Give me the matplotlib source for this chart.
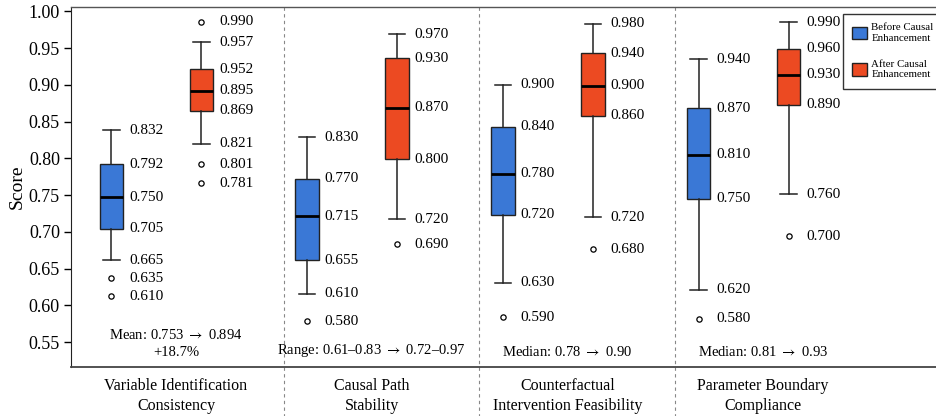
import numpy as np
import matplotlib
matplotlib.use("Agg")
import matplotlib.pyplot as plt
from matplotlib.patches import Patch

plt.rcParams['font.family'] = ['Liberation Serif', 'DejaVu Serif']
plt.rcParams['mathtext.fontset'] = 'stix'

categories = ["Variable Identification\nConsistency", "Causal Path\nStability",
              "Counterfactual\nIntervention Feasibility", "Parameter Boundary\nCompliance"]

# Before causal enhancement (blue)
before_whishi = [0.838, 0.829, 0.900, 0.935]
before_q3 = [0.792, 0.772, 0.843, 0.868]
before_med = [0.747, 0.721, 0.779, 0.805]
before_q1 = [0.704, 0.661, 0.723, 0.745]
before_whislo = [0.661, 0.616, 0.631, 0.621]
before_fliers = [[0.637, 0.612], [0.578], [0.584], [0.582]]
before_labels = [["0.832", "0.792", "0.750", "0.705", "0.665", "0.635", "0.610"],
                 ["0.830", "0.770", "0.715", "0.655", "0.610", "0.580"],
                 ["0.900", "0.840", "0.780", "0.720", "0.630", "0.590"],
                 ["0.940", "0.870", "0.810", "0.750", "0.620", "0.580"]]

# After causal enhancement (red)
after_whishi = [0.958, 0.969, 0.983, 0.985]
after_q3 = [0.921, 0.936, 0.943, 0.949]
after_med = [0.892, 0.869, 0.899, 0.914]
after_q1 = [0.865, 0.799, 0.858, 0.873]
after_whislo = [0.820, 0.717, 0.720, 0.751]
after_fliers = [[0.986, 0.792, 0.766], [0.683], [0.676], [0.694]]
after_labels = [["0.957", "0.952", "0.895", "0.869", "0.821", "0.990", "0.801", "0.781"],
                ["0.970", "0.930", "0.870", "0.800", "0.720", "0.690"],
                ["0.980", "0.940", "0.900", "0.860", "0.720", "0.680"],
                ["0.990", "0.960", "0.930", "0.890", "0.760", "0.700"]]

ARROW = r" $\rightarrow$ "
summaries = ["Mean: 0.753" + ARROW + "0.894\n+18.7%",
             "Range: 0.61\u20130.83" + ARROW + "0.72\u20130.97",
             "Median: 0.78" + ARROW + "0.90",
             "Median: 0.81" + ARROW + "0.93"]

yticks = [0.55, 0.60, 0.65, 0.70, 0.75, 0.80, 0.85, 0.90, 0.95, 1.00]

BLUE = '#3a78d6'
RED = '#ec4a22'

fig = plt.figure(figsize=(9.36, 4.16), dpi=100)
W, H = 936, 416
ax = fig.add_axes([71 / W, 49 / H, (950 - 71) / W, 360 / H])

n = len(categories)
idx = np.arange(n)
pos_before = idx - 0.33
pos_after = idx + 0.13
box_w = 0.12


def make_stats(lo, q1, med, q3, hi, fl):
    return [dict(whislo=a, q1=b, med=c, q3=d, whishi=e, fliers=f)
            for a, b, c, d, e, f in zip(lo, q1, med, q3, hi, fl)]


common = dict(widths=box_w, patch_artist=True, showfliers=True,
              medianprops=dict(color='black', linewidth=2),
              whiskerprops=dict(color='#222222', linewidth=1.1),
              capprops=dict(color='#222222', linewidth=1.1),
              flierprops=dict(marker='o', markersize=3.8, markerfacecolor='white',
                              markeredgecolor='black', markeredgewidth=0.9))

b1 = ax.bxp(make_stats(before_whislo, before_q1, before_med, before_q3, before_whishi, before_fliers),
            positions=pos_before, boxprops=dict(facecolor=BLUE, edgecolor='#222222', linewidth=1.0),
            manage_ticks=False, **common)
b2 = ax.bxp(make_stats(after_whislo, after_q1, after_med, after_q3, after_whishi, after_fliers),
            positions=pos_after, boxprops=dict(facecolor=RED, edgecolor='#222222', linewidth=1.0),
            manage_ticks=False, **common)
for c in b1['caps'] + b2['caps']:
    xd = c.get_xdata()
    m = np.mean(xd)
    c.set_xdata([m - 0.042, m + 0.042])

label_dx = 0.09
for i in range(n):
    ys_b = [before_whishi[i], before_q3[i], before_med[i], before_q1[i], before_whislo[i]] + before_fliers[i]
    for yv, s in zip(ys_b, before_labels[i]):
        ax.text(pos_before[i] + label_dx, yv, s, ha='left', va='center', fontsize=11)
    ys_a = [after_whishi[i], after_q3[i], after_med[i], after_q1[i], after_whislo[i]] + after_fliers[i]
    for yv, s in zip(ys_a, after_labels[i]):
        ax.text(pos_after[i] + label_dx, yv, s, ha='left', va='center', fontsize=11)
    ax.text(idx[i], 0.527, summaries[i], ha='center', va='bottom', fontsize=10.5,
            linespacing=1.35)

for i in range(n - 1):
    ax.axvline(idx[i] + 0.55, ymin=-0.2, ymax=1, color='#888888', linestyle=(0, (3, 3)),
               linewidth=0.8, clip_on=False)

ax.set_xlim(-0.5365, (950 - 176) / 195.7)
ax.set_ylim(0.516, 1.006)
ax.set_yticks(yticks)
ax.set_yticklabels([f"{v:.2f}" for v in yticks], fontsize=13)
ax.set_xticks(idx)
ax.set_xticklabels(categories, fontsize=11.5, linespacing=1.3)
ax.tick_params(axis='x', length=0, pad=8)
ax.tick_params(axis='y', length=5, width=1, pad=3)
ax.set_ylabel("Score", fontsize=14, labelpad=2)

ax.spines['right'].set_visible(False)
ax.spines['top'].set_color('#555555')
ax.spines['top'].set_linewidth(1.0)
ax.spines['bottom'].set_color('#444444')
ax.spines['bottom'].set_linewidth(1.3)
ax.spines['left'].set_color('#222222')

handles = [Patch(facecolor=BLUE, edgecolor='#222222', label='Before Causal\nEnhancement'),
           Patch(facecolor=RED, edgecolor='#222222', label='After Causal\nEnhancement')]
leg = ax.legend(handles=handles, loc='upper left', bbox_to_anchor=(843 / W, 1 - 14 / H),
                bbox_transform=fig.transFigure, fontsize=7.8, fancybox=False,
                framealpha=1, edgecolor='#333333', handlelength=1.4, handleheight=1.4,
                handletextpad=0.35, borderaxespad=0, labelspacing=1.6, borderpad=0.85)
leg.get_frame().set_linewidth(1.0)

fig.savefig("out.png", dpi=100)
